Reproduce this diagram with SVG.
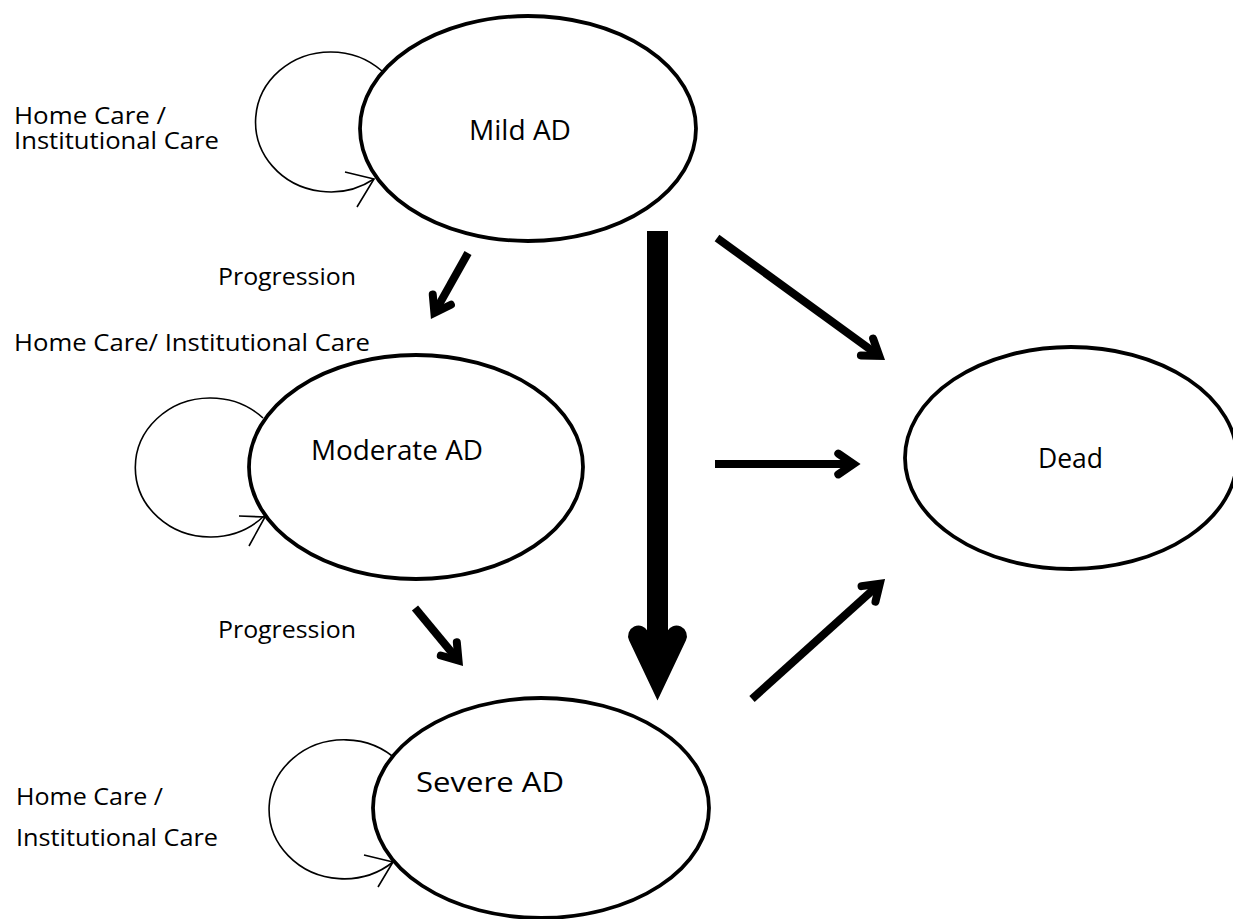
<svg xmlns="http://www.w3.org/2000/svg" width="1233" height="919" viewBox="0 0 1233 919">
<style>
.node{fill:#fff;stroke:#000;stroke-width:3.8}
.lbl{font-family:"Open Sans","Liberation Sans",sans-serif;font-size:24px;fill:#000}
.nl{font-family:"Open Sans","Liberation Sans",sans-serif;font-size:27px;fill:#000}
.loop{fill:none;stroke:#000;stroke-width:1.6}
.arr{fill:none;stroke:#000;stroke-width:8;stroke-linecap:butt}
.big{fill:none;stroke:#000;stroke-width:21;stroke-linecap:butt}
</style>
<defs>
<marker id="head" markerUnits="strokeWidth" orient="auto" refX="0" refY="0" markerWidth="4" markerHeight="4" overflow="visible">
<path d="M-1.9,-1.3 L0,0 L-1.9,1.3" fill="none" stroke="#000" stroke-width="1" stroke-linecap="round" stroke-linejoin="miter"/>
</marker>
<marker id="bighead" markerUnits="strokeWidth" orient="auto" refX="0" refY="0" markerWidth="4" markerHeight="4" overflow="visible">
<path d="M-1.9,-0.9 L0,0 L-1.9,0.9" fill="none" stroke="#000" stroke-width="1" stroke-linecap="round" stroke-linejoin="miter"/>
</marker>
</defs>
<rect width="1233" height="919" fill="#fff"/>
<g id="connectors">
<path class="loop" d="M382,71 A75 70 0 1 0 374,179"/>
<polyline class="loop" points="345,172 374,179 357,207"/>
<path class="loop" d="M263,418 A75 69.5 0 1 0 264,516"/>
<polyline class="loop" points="239,516 265,517 249,546"/>
<path class="loop" d="M398,761 A75 69.5 0 1 0 393,862"/>
<polyline class="loop" points="364,855 393,862 378,887"/>
<line class="arr" x1="468" y1="253" x2="434.4" y2="312.9" marker-end="url(#head)"/>
<line class="arr" x1="415" y1="608" x2="458.5" y2="660.6" marker-end="url(#head)"/>
<line class="big" x1="657.5" y1="231" x2="657.5" y2="676" marker-end="url(#bighead)"/>
<line class="arr" x1="717" y1="238" x2="879.3" y2="355.9" marker-end="url(#head)"/>
<line class="arr" x1="715" y1="464" x2="853.5" y2="464" marker-end="url(#head)"/>
<line class="arr" x1="752" y1="699" x2="879.8" y2="583.7" marker-end="url(#head)"/>
</g>
<g id="node-mild">
<ellipse class="node" cx="528" cy="128.5" rx="168" ry="112.5"/>
<text class="nl" x="469" y="140" textLength="102" lengthAdjust="spacingAndGlyphs">Mild AD</text>
</g>
<g id="node-moderate">
<ellipse class="node" cx="416" cy="467" rx="167" ry="112"/>
<text class="nl" x="311" y="460" textLength="172" lengthAdjust="spacingAndGlyphs">Moderate AD</text>
</g>
<g id="node-severe">
<ellipse class="node" cx="541" cy="808" rx="168" ry="110"/>
<text class="nl" x="416" y="792" textLength="148" lengthAdjust="spacingAndGlyphs">Severe AD</text>
</g>
<g id="node-dead">
<ellipse class="node" cx="1071" cy="458" rx="166" ry="111"/>
<text class="nl" x="1038" y="468" textLength="65" lengthAdjust="spacingAndGlyphs">Dead</text>
</g>
<g id="labels">
<text class="lbl" x="14" y="124" textLength="152" lengthAdjust="spacingAndGlyphs">Home Care /</text>
<text class="lbl" x="14" y="149" textLength="205" lengthAdjust="spacingAndGlyphs">Institutional Care</text>
<text class="lbl" x="218" y="285" textLength="138" lengthAdjust="spacingAndGlyphs">Progression</text>
<text class="lbl" x="14" y="351" textLength="356" lengthAdjust="spacingAndGlyphs">Home Care/ Institutional Care</text>
<text class="lbl" x="218" y="638" textLength="138" lengthAdjust="spacingAndGlyphs">Progression</text>
<text class="lbl" x="16" y="805" textLength="147" lengthAdjust="spacingAndGlyphs">Home Care /</text>
<text class="lbl" x="16" y="846" textLength="202" lengthAdjust="spacingAndGlyphs">Institutional Care</text>
</g>
</svg>
